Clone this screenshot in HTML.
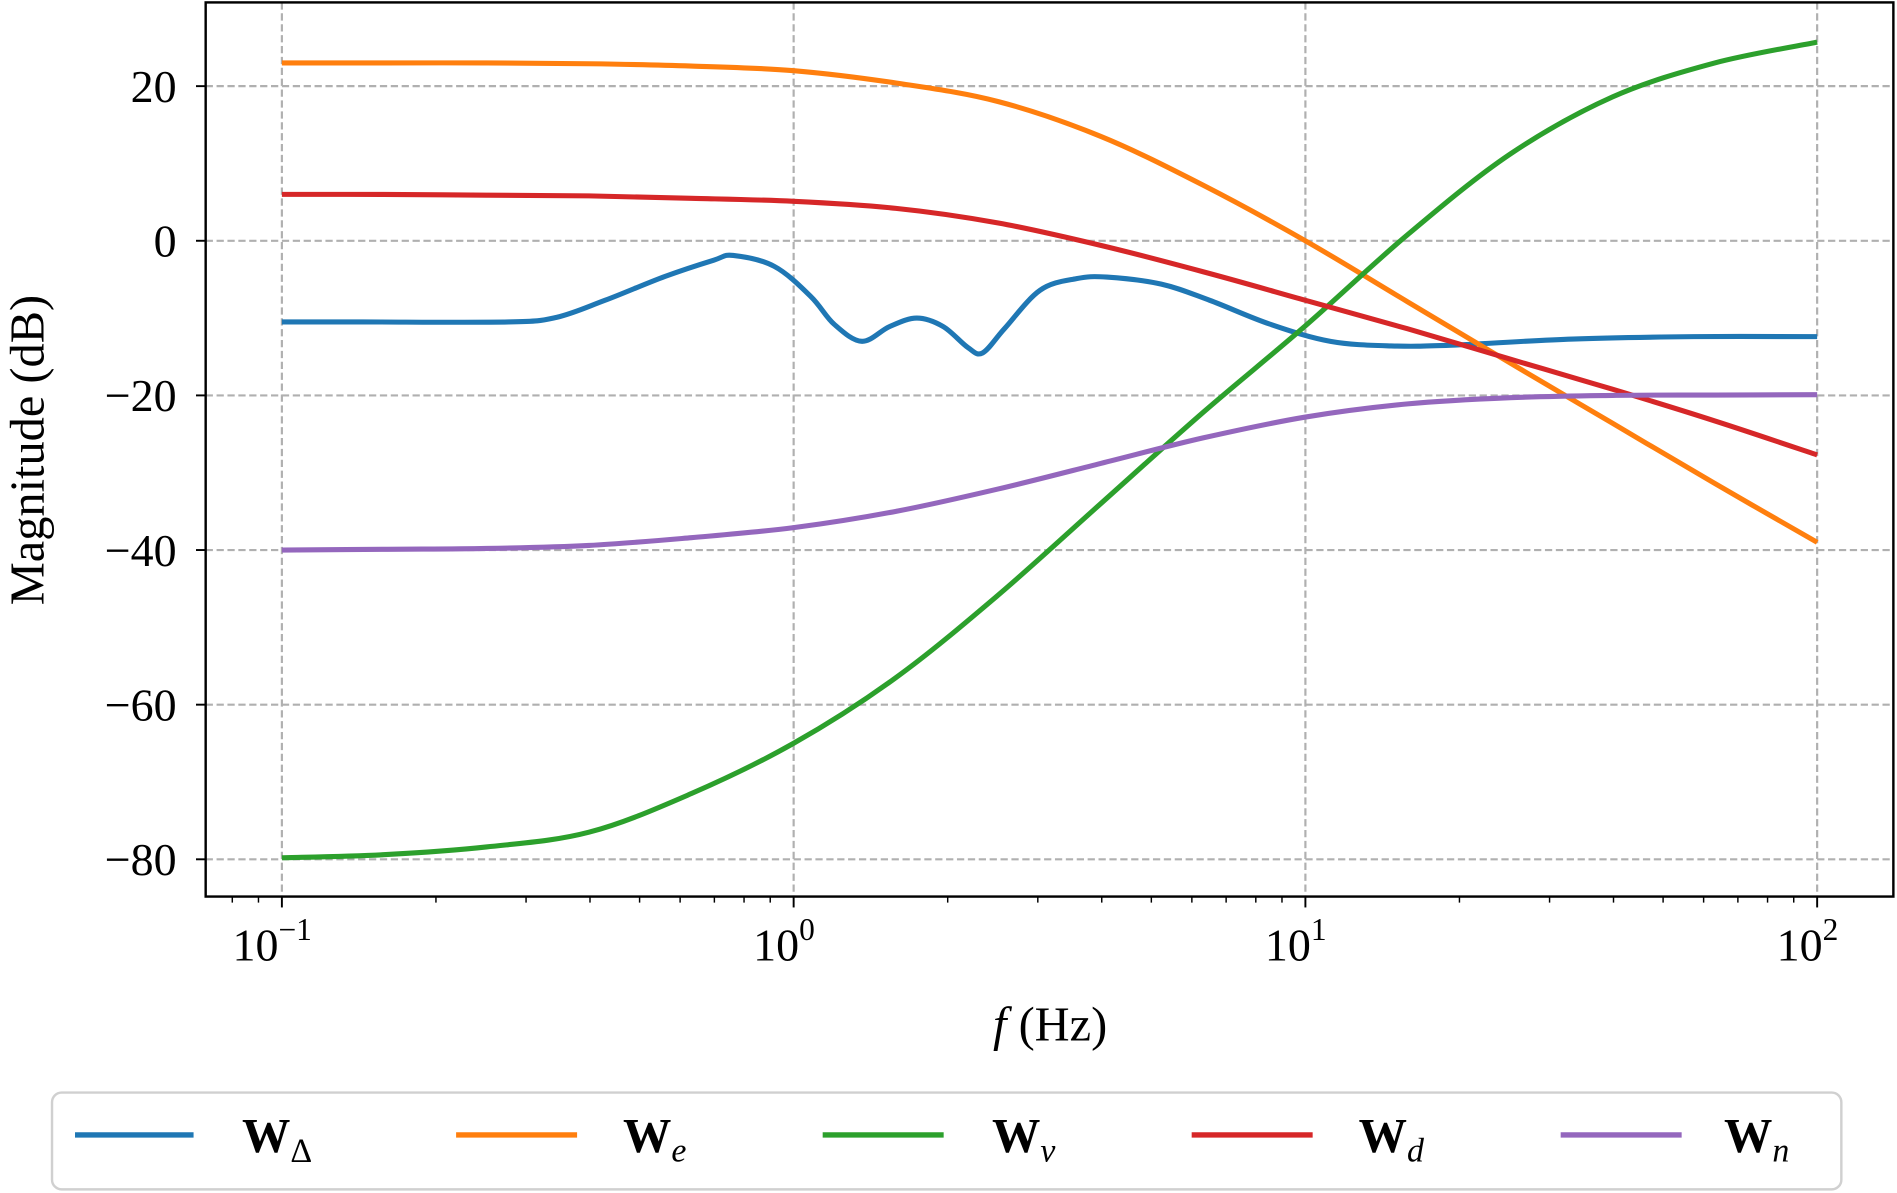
<!DOCTYPE html>
<html><head><meta charset="utf-8"><style>
html,body{margin:0;padding:0;background:#fff;}
svg{display:block;}
text{font-family:"Liberation Serif",serif;fill:#000;}
</style></head><body>
<svg id="chart" width="1897" height="1193" viewBox="0 0 1568 986" preserveAspectRatio="none" xmlns="http://www.w3.org/2000/svg">
<g id="grid"></g>
<g id="series"></g>
<rect x="170" y="2" width="1395" height="739" fill="none" stroke="#000" stroke-width="2"/>
<g id="axes"></g>
<text x="868" y="860" font-size="40" text-anchor="middle"><tspan font-style="italic">f</tspan> (Hz)</text>
<text transform="translate(36,372) rotate(-90)" font-size="40" text-anchor="middle">Magnitude (dB)</text>
<g>
<rect x="43" y="903" width="1479" height="80" rx="8" fill="#fff" stroke="#d0d0d0" stroke-width="2"/>
<line x1="62" y1="938" x2="160" y2="938" stroke="#1f77b4" stroke-width="4.5"/>
<text x="200" y="952" font-size="40"><tspan font-weight="bold">W</tspan><tspan font-size="28" dy="8">Δ</tspan></text>
<line x1="377" y1="938" x2="477" y2="938" stroke="#ff7f0e" stroke-width="4.5"/>
<text x="515" y="952" font-size="40"><tspan font-weight="bold">W</tspan><tspan font-size="28" dy="8" font-style="italic">e</tspan></text>
<line x1="680" y1="938" x2="780" y2="938" stroke="#2ca02c" stroke-width="4.5"/>
<text x="820" y="952" font-size="40"><tspan font-weight="bold">W</tspan><tspan font-size="28" dy="8" font-style="italic">ν</tspan></text>
<line x1="985" y1="938" x2="1085" y2="938" stroke="#d62728" stroke-width="4.5"/>
<text x="1123" y="952" font-size="40"><tspan font-weight="bold">W</tspan><tspan font-size="28" dy="8" font-style="italic">d</tspan></text>
<line x1="1290" y1="938" x2="1390" y2="938" stroke="#9467bd" stroke-width="4.5"/>
<text x="1425" y="952" font-size="40"><tspan font-weight="bold">W</tspan><tspan font-size="28" dy="8" font-style="italic">n</tspan></text>
</g>
</svg>
<script>
const NS="http://www.w3.org/2000/svg";
const yTicks=[20,0,-20,-40,-60,-80];
const yTickLabels=["20","0","−20","−40","−60","−80"];
const xTickExps=[-1,0,1,2];
const xTickLabels=["−1","0","1","2"];
const commonFreqs=[0.1,0.158,0.251,0.398,0.631,1,1.585,2.512,3.981,6.31,10,15.85,25.12,39.81,63.1,100];
const wEValues=[23,23,23,22.9,22.6,22,20.4,18,13.5,7.2,0,-7.9,-15.8,-23.6,-31.4,-39];
const wNuValues=[-79.8,-79.4,-78.4,-76.5,-71.5,-65,-56.5,-45.8,-34,-22.2,-11,0.8,11.2,18.6,23,25.7];
const wDValues=[6,6,5.9,5.8,5.5,5.1,4.2,2.3,-0.6,-4,-7.7,-11.4,-15.3,-19.2,-23.3,-27.7];
const wNValues=[-40,-39.9,-39.8,-39.4,-38.4,-37.1,-35,-32.1,-28.8,-25.5,-22.8,-21.1,-20.3,-20,-19.95,-19.9];
const wDeltaFreqs=[0.1,0.144,0.277,0.344,0.428,0.561,0.698,0.762,0.916,1.08,1.2,1.36,1.54,1.74,1.96,2.19,2.34,2.58,3.03,3.57,4.09,5.23,6.5,8.54,11.2,14.7,19.3,33.3,57.4,100];
const wDeltaValues=[-10.5,-10.5,-10.5,-9.9,-7.7,-4.6,-2.5,-1.9,-3.3,-7.2,-10.8,-13,-11.1,-10,-11.1,-13.8,-14.5,-11.4,-6.4,-4.9,-4.7,-5.6,-7.7,-10.8,-13,-13.6,-13.5,-12.7,-12.4,-12.4];

const X0=233,DEC=423,Y0=199,PDB=6.39;
function xs(f){return X0+(Math.log10(f)+1)*DEC;}
function ys(v){return Y0-v*PDB;}
function mk(tag,attrs,parent){const e=document.createElementNS(NS,tag);for(const k in attrs)e.setAttribute(k,attrs[k]);parent.appendChild(e);return e;}
const grid=document.getElementById('grid'),axes=document.getElementById('axes'),ser=document.getElementById('series');
yTicks.forEach((t,i)=>{
 const y=ys(t);
 const g=mk('line',{x1:170,x2:1565,y1:y,y2:y,stroke:'#b0b0b0','stroke-width':1.8,'stroke-dasharray':'6,3'},grid);
 
 
 const tk=mk('line',{x1:162,x2:170,y1:y,y2:y,stroke:'#000','stroke-width':1.6},axes);
 
 
 const tx=mk('text',{x:146,y:y+13,'font-size':38,'text-anchor':'end'},axes);
 tx.textContent=yTickLabels[i];
 
 
});
xTickExps.forEach((e,i)=>{
 const x=xs(Math.pow(10,e));
 const g=mk('line',{x1:x,x2:x,y1:2,y2:741,stroke:'#b0b0b0','stroke-width':1.8,'stroke-dasharray':'6,3'},grid);
 
 
 const tk=mk('line',{x1:x,x2:x,y1:741,y2:750,stroke:'#000','stroke-width':1.6},axes);
 
 
 const tx=mk('text',{x:x-8,y:794,'font-size':38,'text-anchor':'middle'},axes);
 
 
 tx.innerHTML='10<tspan font-size="26" dy="-17">'+xTickLabels[i]+'</tspan>';
});
for(let d=-2;d<=2;d++){for(let m=2;m<=9;m++){const f=m*Math.pow(10,d);const x=xs(f);if(x<170||x>1565)continue;
 const tk=mk('line',{x1:x,x2:x,y1:741,y2:746,stroke:'#000','stroke-width':1.2},axes);
 
 }}
function smooth(fr,vals){
 const p=fr.map((f,i)=>[xs(f),ys(vals[i])]);
 let d='M'+p[0][0]+','+p[0][1];
 for(let i=0;i<p.length-1;i++){const a=p[Math.max(0,i-1)],b=p[i],c=p[i+1],e=p[Math.min(p.length-1,i+2)];
  const c1=[b[0]+(c[0]-a[0])/6,b[1]+(c[1]-a[1])/6],c2=[c[0]-(e[0]-b[0])/6,c[1]-(e[1]-b[1])/6];
  d+=' C'+c1[0].toFixed(1)+','+c1[1].toFixed(1)+' '+c2[0].toFixed(1)+','+c2[1].toFixed(1)+' '+c[0].toFixed(1)+','+c[1].toFixed(1);}
 return d;}
function line(fr,vals,col,name){
 const p=mk('path',{d:smooth(fr,vals),fill:'none',stroke:col,'stroke-width':4.2,'stroke-linejoin':'round'},ser);
 
 }
line(wDeltaFreqs,wDeltaValues,'#1f77b4','line-w-delta');
line(commonFreqs,wEValues,'#ff7f0e','line-w-e');
line(commonFreqs,wNuValues,'#2ca02c','line-w-nu');
line(commonFreqs,wDValues,'#d62728','line-w-d');
line(commonFreqs,wNValues,'#9467bd','line-w-n');
</script>
</body></html>
